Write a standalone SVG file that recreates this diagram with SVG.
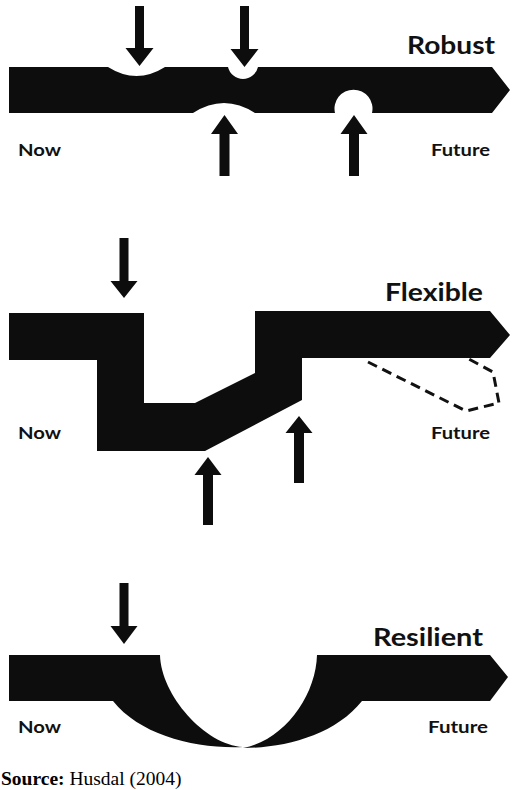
<svg xmlns="http://www.w3.org/2000/svg" width="520" height="790" viewBox="0 0 520 790">
<style>
.band{fill:#0d0d0d}
.arr{fill:#0d0d0d}
.ttl{font-family:Lato,"Liberation Sans",sans-serif;font-weight:700;font-size:24.5px;fill:#111}
.lbl{font-family:Lato,"Liberation Sans",sans-serif;font-weight:700;font-size:17.5px;fill:#111}
.src{font-family:"Liberation Serif","Times New Roman",serif;font-size:19.5px;fill:#000}
.dash{fill:none;stroke:#111;stroke-width:3;stroke-dasharray:10 6}
</style>
<rect width="520" height="790" fill="#fff"/>

<g id="robust">
<path class="band" d="M9,67 L108,67 Q136.5,85 165,67 L228,67 A15.4,15.4 0 0 0 258,67 L492,67 L510,90 L492,113 L372,113 A19,19 0 1 0 335,113 L255,113 Q224,93 193,113 L9,113 Z"/>
<text class="ttl" x="407" y="54" textLength="88" lengthAdjust="spacingAndGlyphs">Robust</text>
<text class="lbl" x="18" y="156" textLength="43" lengthAdjust="spacingAndGlyphs">Now</text>
<text class="lbl" x="431" y="156" textLength="59" lengthAdjust="spacingAndGlyphs">Future</text>
</g>

<g id="flexible">
<path class="band" d="M9,313 L144,313 L144,403 L195,403 L255,373 L255,311 L490,311 L510,335 L490,358 L302,358 L302,400 L205,451 L97,451 L97,360 L9,360 Z"/>
<path class="dash" d="M368,362 L466,411 L499,403 L493,372 L467,358"/>
<text class="ttl" x="385" y="301" textLength="98" lengthAdjust="spacingAndGlyphs">Flexible</text>
<text class="lbl" x="18" y="439" textLength="43" lengthAdjust="spacingAndGlyphs">Now</text>
<text class="lbl" x="431" y="439" textLength="59" lengthAdjust="spacingAndGlyphs">Future</text>
</g>

<g id="resilient">
<path class="band" d="M9,655 L160,655 C161,695 205,745 243,747 C195,749 140,735 113,701 L9,701 Z"/>
<path class="band" d="M317,655 L490,655 L508,677 L490,701 L362,701 C335,735 285,748 243,748 C285,740 316,695 317,655 Z"/>
<text class="ttl" x="373" y="646" textLength="110" lengthAdjust="spacingAndGlyphs">Resilient</text>
<text class="lbl" x="18" y="733" textLength="43" lengthAdjust="spacingAndGlyphs">Now</text>
<text class="lbl" x="428" y="733" textLength="60" lengthAdjust="spacingAndGlyphs">Future</text>
</g>

<g id="arrows">
<polygon class="arr" points="135,6 144,6 144,48 153.5,48 139.5,66 125.5,48 135,48"/>
<polygon class="arr" points="240,6 249,6 249,49 258.5,49 244.5,67 230.5,49 240,49"/>
<polygon class="arr" points="219.5,176 229.5,176 229.5,134 238,134 224.5,115 211,134 219.5,134"/>
<polygon class="arr" points="349,176 359,176 359,134 367.5,134 354,115 340.5,134 349,134"/>
<polygon class="arr" points="119.5,238 128.5,238 128.5,281 137.5,281 124,298 110.5,281 119.5,281"/>
<polygon class="arr" points="203,525 213,525 213,475 221.5,475 208,457 194.5,475 203,475"/>
<polygon class="arr" points="294,483 304,483 304,433 312.5,433 299,416 285.5,433 294,433"/>
<polygon class="arr" points="119.5,583 128.5,583 128.5,626 137.5,626 124,644 110.5,626 119.5,626"/>
</g>

<g id="source">
<text class="src" x="1" y="785"><tspan font-weight="700">Source:</tspan> Husdal (2004)</text>
</g>
</svg>
